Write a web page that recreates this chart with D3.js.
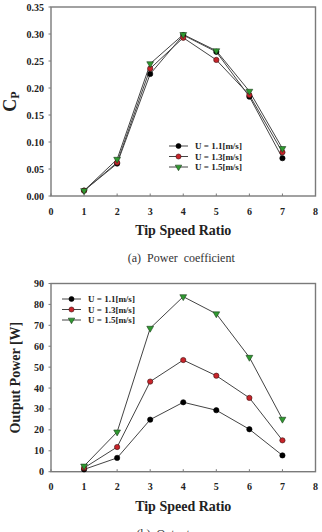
<!DOCTYPE html>
<html>
<head>
<meta charset="utf-8">
<script src="https://cdn.jsdelivr.net/npm/d3@7"></script>
<style>
  body { margin: 0; background: #fff; }
  svg { display: block; font-family: "Liberation Serif", "DejaVu Serif", serif; }
</style>
</head>
<body>
<div id="root"></div>
<script>
const tsr = [1, 2, 3, 4, 5, 6, 7];
const seriesNames = ["U = 1.1[m/s]", "U = 1.3[m/s]", "U = 1.5[m/s]"];

// (a) power coefficient
const cp11 = [0.010, 0.060, 0.226, 0.298, 0.267, 0.184, 0.070];
const cp13 = [0.010, 0.062, 0.236, 0.293, 0.252, 0.187, 0.081];
const cp15 = [0.010, 0.068, 0.245, 0.299, 0.269, 0.194, 0.088];

// (b) output power
const pw11 = [1.1, 6.6, 24.9, 33.2, 29.4, 20.3, 7.8];
const pw13 = [1.8, 11.8, 43.1, 53.4, 45.9, 35.3, 15.0];
const pw15 = [2.7, 19.0, 68.6, 83.7, 75.5, 54.7, 25.1];

const xTicks = [0, 1, 2, 3, 4, 5, 6, 7, 8];
const cpTicks = [0, 0.05, 0.10, 0.15, 0.20, 0.25, 0.30, 0.35];
const pwTicks = [0, 10, 20, 30, 40, 50, 60, 70, 80, 90];

const W = 322, H = 532;
const frameColor = "#7a7a7a";
const lineColor = "#444";
const markers = [
  { type: d3.symbolCircle, fill: "#000", stroke: "#000" },
  { type: d3.symbolCircle, fill: "#c8242a", stroke: "#3a1010" },
  { type: d3.symbolTriangle, fill: "#2f9a30", stroke: "#1d3d1d", flip: true }
];

const svg = d3.select("#root").append("svg")
  .attr("width", W).attr("height", H);

function drawPanel(opt) {
  const x = d3.scaleLinear().domain([0, 8]).range([51, 315.5]);
  const y = d3.scaleLinear().domain(opt.yDomain).range([opt.bottom, opt.top]);
  const g = svg.append("g");

  // frame
  g.append("rect")
    .attr("x", x(0)).attr("y", y(opt.yDomain[1]))
    .attr("width", x(8) - x(0)).attr("height", y(opt.yDomain[0]) - y(opt.yDomain[1]))
    .attr("fill", "none").attr("stroke", frameColor).attr("stroke-width", 1.4);

  // y ticks
  g.selectAll(".yt").data(opt.yTicks).enter().append("line")
    .attr("x1", x(0) - 2.5).attr("x2", x(0))
    .attr("y1", d => y(d)).attr("y2", d => y(d))
    .attr("stroke", frameColor).attr("stroke-width", 1);
  g.selectAll(".yl").data(opt.yTicks).enter().append("text")
    .attr("x", x(0) - 7).attr("y", d => y(d)).attr("dy", "0.35em")
    .attr("text-anchor", "end").attr("font-size", 10).attr("font-weight", "bold")
    .attr("fill", "#222")
    .text(opt.fmt);

  // x ticks
  g.selectAll(".xt").data(xTicks).enter().append("line")
    .attr("x1", d => x(d)).attr("x2", d => x(d))
    .attr("y1", y(opt.yDomain[0])).attr("y2", y(opt.yDomain[0]) - 2.5)
    .attr("stroke", frameColor).attr("stroke-width", 1);
  g.selectAll(".xl").data(xTicks).enter().append("text")
    .attr("x", d => x(d)).attr("y", y(opt.yDomain[0]) + 18.5)
    .attr("text-anchor", "middle").attr("font-size", 10).attr("font-weight", "bold")
    .attr("fill", "#222")
    .text(d => d);

  // axis titles
  g.append("text")
    .attr("x", (x(0) + x(8)) / 2).attr("y", y(opt.yDomain[0]) + 39)
    .attr("text-anchor", "middle").attr("font-size", 14).attr("font-weight", "bold")
    .attr("fill", "#222")
    .text("Tip Speed Ratio");
  g.append("text")
    .attr("x", (x(0) + x(8)) / 2 - 2).attr("y", y(opt.yDomain[0]) + 66)
    .attr("text-anchor", "middle").attr("font-size", 12).attr("word-spacing", 3)
    .attr("fill", "#333")
    .text(opt.caption);
  opt.yTitle(g, (opt.top + opt.bottom) / 2);

  // series
  const line = d3.line().x((d, i) => x(tsr[i])).y(d => y(d));
  opt.series.forEach((vals) => {
    g.append("path").datum(vals)
      .attr("d", line).attr("fill", "none")
      .attr("stroke", lineColor).attr("stroke-width", 1);
  });
  opt.series.forEach((vals, si) => {
    const m = markers[si];
    g.selectAll(".m" + si).data(vals).enter().append("path")
      .attr("d", d3.symbol().type(m.type).size(m.type === d3.symbolCircle ? 22 : 20))
      .attr("transform", (d, i) => `translate(${x(tsr[i])},${y(d)})` + (m.flip ? " rotate(180)" : ""))
      .attr("fill", m.fill).attr("stroke", m.stroke).attr("stroke-width", 0.6);
  });

  // legend
  seriesNames.forEach((name, si) => {
    const ly = opt.legend.y + si * 10.5;
    const m = markers[si];
    g.append("line")
      .attr("x1", opt.legend.x).attr("x2", opt.legend.x + 19)
      .attr("y1", ly).attr("y2", ly)
      .attr("stroke", lineColor).attr("stroke-width", 1);
    g.append("path")
      .attr("d", d3.symbol().type(m.type).size(m.type === d3.symbolCircle ? 20 : 18))
      .attr("transform", `translate(${opt.legend.x + 9.5},${ly})` + (m.flip ? " rotate(180)" : ""))
      .attr("fill", m.fill).attr("stroke", m.stroke).attr("stroke-width", 0.6);
    g.append("text")
      .attr("x", opt.legend.x + 26).attr("y", ly).attr("dy", "0.35em")
      .attr("font-size", 9).attr("font-weight", "bold").attr("fill", "#222")
      .text(name);
  });
}

drawPanel({
  yDomain: [0, 0.35], top: 7, bottom: 196,
  yTicks: cpTicks, fmt: d3.format(".2f"),
  series: [cp11, cp13, cp15],
  legend: { x: 169, y: 146 },
  caption: "(a) Power coefficient",
  yTitle: (g, cy) => {
    const t = g.append("text")
      .attr("transform", `translate(16,${cy}) rotate(-90)`)
      .attr("text-anchor", "middle").attr("font-weight", "bold").attr("fill", "#222");
    t.append("tspan").attr("font-size", 18).text("C");
    t.append("tspan").attr("font-size", 12).attr("dy", 3).text("P");
  }
});

drawPanel({
  yDomain: [0, 90], top: 283.5, bottom: 471.7,
  yTicks: pwTicks, fmt: d => d,
  series: [pw11, pw13, pw15],
  legend: { x: 62, y: 299 },
  caption: "(b) Output power",
  yTitle: (g, cy) => {
    g.append("text")
      .attr("transform", `translate(20,${cy}) rotate(-90)`)
      .attr("text-anchor", "middle").attr("font-size", 14).attr("font-weight", "bold")
      .attr("fill", "#222")
      .text("Output Power [W]");
  }
});
</script>
</body>
</html>
